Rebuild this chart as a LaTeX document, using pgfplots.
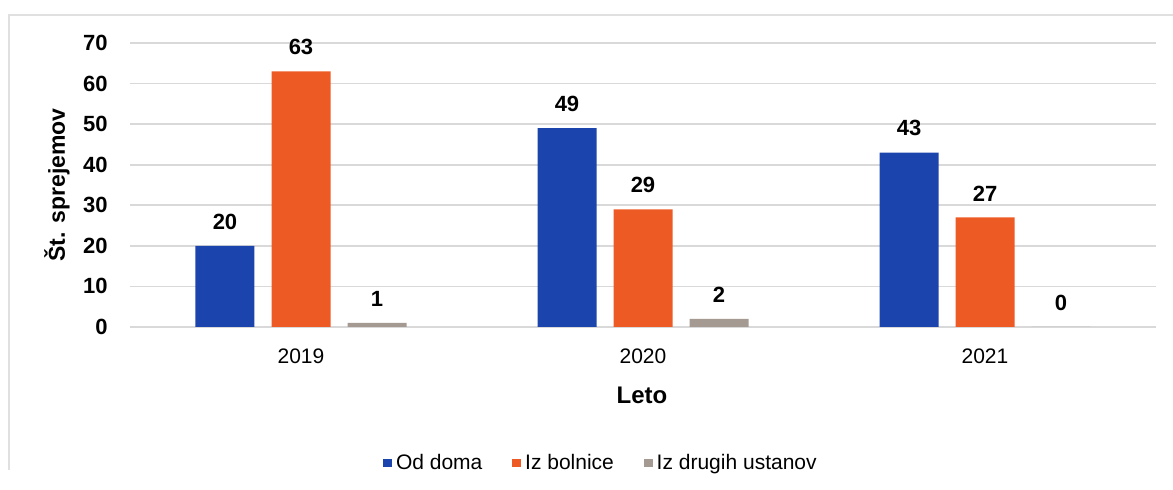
\documentclass[border=0pt]{standalone}
\usepackage{pgfplots}
\pgfplotsset{compat=1.18}
\usepackage{fontspec}
\setmainfont{Liberation Sans}
\definecolor{cblue}{HTML}{1B45AD}
\definecolor{corange}{HTML}{EE5A24}
\definecolor{cgray}{HTML}{A49A92}
\definecolor{cgrid}{HTML}{D9D9D9}
\begin{document}
\begin{tikzpicture}
\path[use as bounding box] (-65pt,-81.5pt) rectangle (521.5pt,163.5pt);
\draw[black!12, line width=0.8pt] (-60.5pt,-71.5pt) -- (-60.5pt,156pt) -- (521.5pt,156pt);
\begin{axis}[
  at={(0pt,0pt)}, anchor=south west,
  scale only axis, width=513pt, height=142pt,
  xmin=-0.5, xmax=2.5, ymin=0, ymax=70,
  ybar=8.5pt, bar width=29.5pt,
  axis line style={draw=none},
  major tick length=0pt,
  xtick={0,1,2}, xticklabels={2019,2020,2021},
  ytick={0,10,...,70},
  ymajorgrids, grid style={cgrid, line width=0.8pt},
  /pgf/number format/assume math mode=true,
  yticklabel style={font=\fontsize{11}{13}\selectfont\bfseries, anchor=east, inner sep=0pt, xshift=-11pt},
  xticklabel style={font=\fontsize{10.5}{12}\selectfont, anchor=north, inner sep=0pt, yshift=-10.5pt},
  ylabel={Št. sprejemov}, ylabel style={font=\fontsize{11.5}{13}\selectfont\bfseries, at={(axis description cs:-0.0711,0.5)}, anchor=center},
  xlabel={Leto}, xlabel style={font=\fontsize{12}{14}\selectfont\bfseries, at={(axis description cs:0.499,-0.239)}, anchor=center},
  nodes near coords,
  nodes near coords style={font=\fontsize{11}{13}\selectfont\bfseries, anchor=south, inner sep=0pt, yshift=8pt},
  every axis plot/.append style={draw=none},
  legend columns=-1,
  legend style={at={(0.46,-0.479)}, anchor=center, draw=none, fill=none,
    font=\fontsize{10.5}{12}\selectfont,
    /tikz/every even column/.append style={column sep=13pt}},
  legend image code/.code={\fill[#1] (0pt,-2.2pt) rectangle (4.4pt,2.2pt);},
]
\addplot[fill=cblue] coordinates {(0,20) (1,49) (2,43)};
\addplot[fill=corange] coordinates {(0,63) (1,29) (2,27)};
\addplot[fill=cgray] coordinates {(0,1) (1,2) (2,0)};
\legend{Od doma, Iz bolnice, Iz drugih ustanov}
\end{axis}
\end{tikzpicture}
\end{document}
